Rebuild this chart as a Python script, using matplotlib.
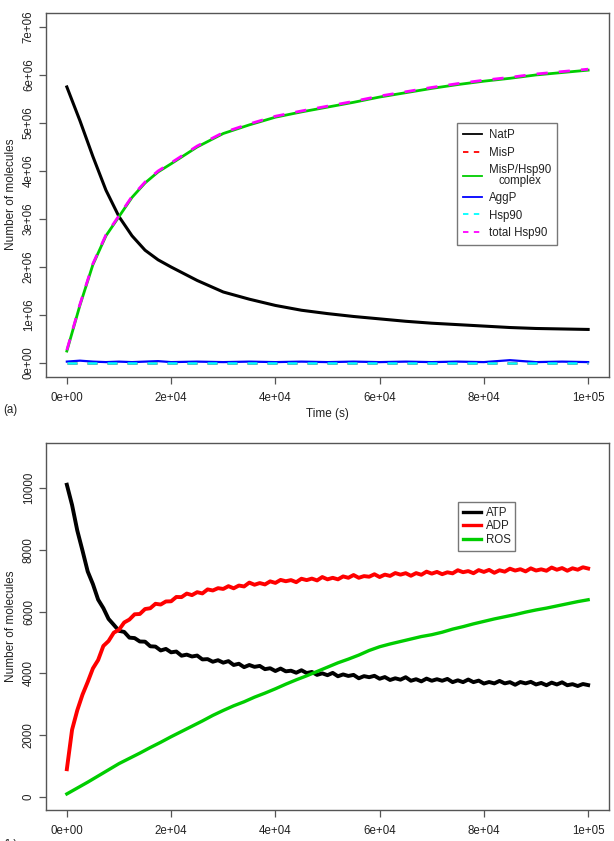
import numpy as np
import matplotlib
matplotlib.use('Agg')
import matplotlib.pyplot as plt
from matplotlib.lines import Line2D

plt.rcParams['font.family'] = ['Liberation Sans', 'DejaVu Sans']

# ---- panel (a): protein species (values in molecules) ----
t_a = [0, 2500, 5000, 7500, 10000, 12500, 15000, 17500, 20000, 25000, 30000,
       35000, 40000, 45000, 50000, 55000, 60000, 65000, 70000, 75000, 80000,
       85000, 90000, 95000, 100000]
natp = [5.75e6, 5.05e6, 4.3e6, 3.6e6, 3.05e6, 2.65e6, 2.35e6, 2.15e6, 2.0e6,
        1.72e6, 1.48e6, 1.33e6, 1.2e6, 1.1e6, 1.03e6, 0.97e6, 0.92e6, 0.87e6,
        0.83e6, 0.8e6, 0.77e6, 0.74e6, 0.72e6, 0.71e6, 0.7e6]
complex_ = [0.25e6, 1.2e6, 2.05e6, 2.65e6, 3.05e6, 3.45e6, 3.75e6, 3.98e6, 4.15e6,
            4.5e6, 4.78e6, 4.96e6, 5.12e6, 5.23e6, 5.33e6, 5.43e6, 5.54e6, 5.63e6,
            5.72e6, 5.8e6, 5.87e6, 5.93e6, 6.0e6, 6.05e6, 6.1e6]
total_hsp90 = [0.27e6, 1.22e6, 2.07e6, 2.67e6, 3.07e6, 3.47e6, 3.77e6, 4.0e6, 4.17e6,
               4.52e6, 4.8e6, 4.98e6, 5.14e6, 5.25e6, 5.35e6, 5.45e6, 5.56e6, 5.65e6,
               5.74e6, 5.82e6, 5.89e6, 5.95e6, 6.02e6, 6.07e6, 6.12e6]
misp = [0.0] * 25
aggp = [0.03e6, 0.05e6, 0.03e6, 0.02e6, 0.03e6, 0.02e6, 0.03e6, 0.04e6, 0.02e6,
        0.03e6, 0.02e6, 0.03e6, 0.02e6, 0.03e6, 0.02e6, 0.03e6, 0.02e6, 0.03e6,
        0.02e6, 0.03e6, 0.02e6, 0.06e6, 0.02e6, 0.03e6, 0.02e6]
hsp90 = [0.01e6] * 25

# ---- panel (b): energy metabolites (sampled every 1000 s) ----
t_b = np.arange(0, 100001, 1000)
atp = [10100, 9445, 8620, 7970, 7295, 6885, 6385, 6110, 5760, 5570,
       5375, 5340, 5155, 5140, 5030, 5025, 4875, 4865, 4740, 4790,
       4680, 4705, 4570, 4605, 4545, 4575, 4450, 4460, 4375, 4425,
       4345, 4395, 4270, 4310, 4200, 4270, 4210, 4240, 4135, 4165,
       4075, 4155, 4065, 4085, 4020, 4100, 4010, 4045, 3950, 4000,
       3940, 4015, 3905, 3965, 3915, 3950, 3840, 3910, 3875, 3920,
       3825, 3880, 3785, 3840, 3795, 3875, 3760, 3810, 3740, 3830,
       3760, 3810, 3760, 3820, 3715, 3775, 3715, 3800, 3715, 3765,
       3670, 3720, 3675, 3755, 3675, 3715, 3630, 3720, 3675, 3725,
       3640, 3690, 3615, 3700, 3640, 3710, 3615, 3650, 3590, 3655,
       3620]
adp = [900, 2175, 2805, 3310, 3720, 4160, 4430, 4885, 5045, 5315,
       5410, 5645, 5740, 5910, 5920, 6080, 6105, 6250, 6225, 6325,
       6330, 6470, 6465, 6580, 6530, 6625, 6585, 6715, 6680, 6755,
       6730, 6820, 6750, 6840, 6810, 6935, 6865, 6920, 6875, 6975,
       6925, 7022, 6979, 7016, 6948, 7060, 7015, 7065, 7005, 7115,
       7040, 7090, 7040, 7135, 7090, 7180, 7090, 7145, 7125, 7205,
       7115, 7193, 7151, 7244, 7192, 7240, 7156, 7242, 7188, 7289,
       7225, 7281, 7207, 7268, 7234, 7335, 7271, 7307, 7238, 7339,
       7280, 7346, 7252, 7333, 7289, 7385, 7324, 7368, 7297, 7396,
       7325, 7364, 7318, 7422, 7351, 7405, 7319, 7398, 7352, 7431,
       7390]
t_ros = np.arange(0, 100001, 2000)
ros = [100, 290, 480, 680, 880, 1080, 1250, 1420, 1600, 1770,
       1950, 2120, 2290, 2460, 2640, 2800, 2950, 3080, 3230, 3360,
       3500, 3650, 3790, 3920, 4060, 4200, 4340, 4460, 4590, 4740,
       4860, 4950, 5030, 5110, 5190, 5250, 5330, 5430, 5510, 5600,
       5680, 5760, 5830, 5900, 5980, 6050, 6110, 6180, 6250, 6320,
       6380]

xticks = [0, 20000, 40000, 60000, 80000, 100000]
xlabels = ['0e+00', '2e+04', '4e+04', '6e+04', '8e+04', '1e+05']
GREEN = '#00CD00'
EDGE = '#555555'
TXT = '#222222'


def style(ax):
    for s in ax.spines.values():
        s.set_color(EDGE)
        s.set_linewidth(1.0)
    ax.tick_params(direction='out', length=5, width=0.9, color=EDGE,
                   labelsize=8.3, labelcolor=TXT, pad=3)
    ax.tick_params(axis='x', pad=6)
    ax.set_xlim(-4000, 104000)
    ax.set_xticks(xticks)
    ax.set_xticklabels(xlabels)
    ax.set_xlabel('Time (s)', fontsize=8.5, color=TXT, labelpad=3)
    ax.set_ylabel('Number of molecules', fontsize=8.5, color=TXT, labelpad=4)
    for lbl in ax.get_yticklabels():
        lbl.set_rotation(90)
        lbl.set_va('center')


fig = plt.figure(figsize=(6.14, 8.41), dpi=100)
ax1 = fig.add_axes([46 / 614, 1 - 376.5 / 841, 563 / 614, 363.5 / 841])
ax2 = fig.add_axes([46 / 614, 1 - 810 / 841, 563 / 614, 367 / 841])

# panel (a)
ax1.plot(t_a, natp, color='black', lw=2.2)
ax1.plot(t_a, misp, color='red', lw=1.8, dashes=(4, 4))
ax1.plot(t_a, complex_, color=GREEN, lw=2.0)
ax1.plot(t_a, aggp, color='blue', lw=1.6)
ax1.plot(t_a, hsp90, color='cyan', lw=1.8, dashes=(4, 4))
ax1.plot(t_a, total_hsp90, color='magenta', lw=2.0, dashes=(4, 4))
ax1.set_ylim(-0.28e6, 7.29e6)
ax1.set_yticks([0, 1e6, 2e6, 3e6, 4e6, 5e6, 6e6, 7e6])
ax1.set_yticklabels(['0e+00', '1e+06', '2e+06', '3e+06', '4e+06', '5e+06', '6e+06', '7e+06'])
style(ax1)

h1 = [Line2D([], [], color='black', lw=1.3),
      Line2D([], [], color='red', lw=1.3, dashes=(3, 3)),
      Line2D([], [], color=GREEN, lw=1.3),
      Line2D([], [], color='blue', lw=1.3),
      Line2D([], [], color='cyan', lw=1.3, dashes=(3, 3)),
      Line2D([], [], color='magenta', lw=1.3, dashes=(3, 3))]
lab1 = ['NatP', 'MisP', 'MisP/Hsp90\ncomplex', 'AggP', 'Hsp90', 'total Hsp90']
leg1 = ax1.legend(h1, lab1, loc='upper left', bbox_to_anchor=(0.73, 0.697),
                  borderaxespad=0, fontsize=8.3, frameon=True, fancybox=False,
                  edgecolor=EDGE, handlelength=1.6, handletextpad=0.6,
                  borderpad=0.55, labelspacing=0.45)
leg1.get_frame().set_linewidth(1.0)
for txt in leg1.get_texts():
    txt.set_color(TXT)
    txt.set_linespacing(0.92)
    txt.set_multialignment('center')

# panel (b)
ax2.plot(t_b, atp, color='black', lw=2.8)
ax2.plot(t_b, adp, color='red', lw=2.8)
ax2.plot(t_ros, ros, color=GREEN, lw=2.4)
ax2.set_ylim(-420, 11450)
ax2.set_yticks([0, 2000, 4000, 6000, 8000, 10000])
ax2.set_yticklabels(['0', '2000', '4000', '6000', '8000', '10000'])
style(ax2)

h2 = [Line2D([], [], color='black', lw=2.4),
      Line2D([], [], color='red', lw=2.4),
      Line2D([], [], color=GREEN, lw=2.4)]
leg2 = ax2.legend(h2, ['ATP', 'ADP', 'ROS'], loc='upper left',
                  bbox_to_anchor=(0.732, 0.839), borderaxespad=0, fontsize=8.3,
                  frameon=True, fancybox=False, edgecolor=EDGE,
                  handlelength=1.6, handletextpad=0.4, borderpad=0.4,
                  labelspacing=0.15)
leg2.get_frame().set_linewidth(1.0)
for txt in leg2.get_texts():
    txt.set_color(TXT)

fig.text(3 / 614, 1 - 410 / 841, '(a)', fontsize=8.3, color=TXT, va='center')
fig.text(3 / 614, -4 / 841, '(b)', fontsize=8.3, color=TXT, va='center')

fig.savefig('out.png', dpi=100)
